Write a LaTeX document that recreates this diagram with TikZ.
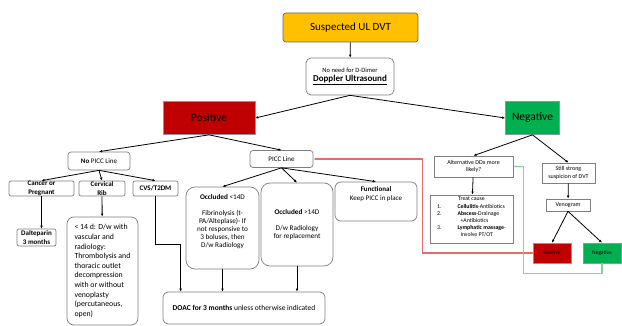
\documentclass[tikz,border=0pt]{standalone}
\usepackage{fontspec}
\setmainfont{Carlito}
\usetikzlibrary{arrows.meta}

\definecolor{dvtorange}{HTML}{FFC000}
\definecolor{posred}{HTML}{C00000}
\definecolor{neggreen}{HTML}{00B050}
\definecolor{boxline}{HTML}{7F7F7F}
\definecolor{headline}{HTML}{8497B0}
\definecolor{backred}{HTML}{E46C6C}
\definecolor{backgreen}{HTML}{7ED69A}
\newcommand{\fsz}[2]{\fontsize{#1}{#2}\selectfont}

\begin{document}
\begin{tikzpicture}
        [x=1pt, y=-1pt,
        rbox/.style={draw=boxline, rounded corners=3pt, fill=white, align=center, inner sep=1pt, line width=0.7pt, font=\fsz{7}{8.5}},
        sbox/.style={draw=boxline, fill=white, align=center, inner sep=1pt, line width=0.7pt, font=\fsz{6}{7.3}},
        head/.style={draw=headline, align=center, inner sep=1pt, line width=0.7pt},
        edge/.style={black, line width=0.8pt, -{Latex[length=3pt,width=2.6pt]}},
        backedge/.style={line width=1.2pt, -{Latex[length=3pt,width=2.6pt]}}]

        \useasboundingbox (0,0) rectangle (622,326);

        % top of the chart
        \node[rbox, fill=dvtorange, draw=black!60, minimum width=135, minimum height=29, font=\fsz{11}{13}] (susp) at (350.5,27.5) {Suspected UL DVT};
        \node[rbox, rounded corners=5pt, minimum width=88, minimum height=37] (doppler) at (350,76.5) {{\fsz{6.5}{8}No need for D-Dimer}\\[1pt]{\fsz{9}{11}\textbf{\underline{Doppler Ultrasound}}}};
        \node[head, fill=posred, minimum width=92, minimum height=33, font=\fsz{11.5}{13}] (pos) at (209,118) {Positive};
        \node[head, fill=neggreen, minimum width=54, minimum height=33, font=\fsz{11.5}{13}] (neg) at (532.5,118) {Negative};

        % positive branch
        \node[rbox, minimum width=62, minimum height=18] (nopicc) at (99,161) {\textbf{No} PICC Line};
        \node[rbox, minimum width=63, minimum height=17] (picc) at (281.5,159) {PICC Line};
        \node[rbox, rounded corners=2pt, inner ysep=0pt, minimum width=65, minimum height=15, font=\fsz{7}{8.5}\bfseries] (cancer) at (41.5,188.5) {Cancer or\\Pregnant};
        \node[rbox, rounded corners=2pt, inner ysep=0pt, minimum width=46, minimum height=15, font=\fsz{7}{8.5}\bfseries] (cervical) at (102,188.5) {Cervical\\Rib};
        \node[rbox, rounded corners=2pt, minimum width=45, minimum height=15, font=\fsz{7}{8.5}\bfseries] (cvs) at (155.5,188.5) {CVS/T2DM};
        \node[rbox, rounded corners=2pt, inner ysep=0pt, minimum width=39, minimum height=17, font=\fsz{7}{8.5}\bfseries] (dalt) at (36.5,237.5) {Dalteparin\\3 months};
        \node[rbox, rounded corners=7pt, align=left, minimum width=71, minimum height=108, font=\fsz{7.8}{9.6}] (cervtext) at (102.5,271) {< 14 d: D/w with\\vascular and\\radiology:\\Thrombolysis and\\thoracic outlet\\decompression\\with or without\\venoplasty\\(percutaneous,\\open)};
        \node[rbox, rounded corners=9pt, minimum width=73, minimum height=82, font=\fsz{7.2}{8}] (occ1) at (222.5,228) {\textbf{Occluded} <14D\\[8pt]Fibrinolysis (t-\\PA/Alteplase)- If\\not responsive to\\3 boluses, then\\D/w Radiology\\[6pt]~};
        \node[rbox, rounded corners=9pt, minimum width=72, minimum height=83, font=\fsz{7.2}{8}] (occ2) at (297,224.5) {\textbf{Occluded} >14D\\[8pt]D/w Radiology\\for replacement};
        \node[rbox, rounded corners=6pt, minimum width=82, minimum height=39, font=\fsz{7}{9}] (func) at (376,201.5) {\textbf{Functional}\\Keep PICC in place\\[6pt]~};
        \node[rbox, rounded corners=5pt, minimum width=162, minimum height=32, font=\fsz{7.5}{9}] (doac) at (244,308) {\textbf{DOAC for 3 months} unless otherwise indicated};

        % negative branch
        \node[sbox, minimum width=79, minimum height=21] (alt) at (473.5,166.5) {Alternative DDx more\\likely?};
        \node[sbox, minimum width=53, minimum height=20] (still) at (568.5,173) {Still strong\\suspicion of DVT};
        \node[sbox, minimum width=83, minimum height=46, font=\fsz{5.8}{7.2}] (treat) at (471.5,219) {\begin{tabular}{@{}l@{\hspace{16pt}}l@{}}
                \multicolumn{2}{c}{Treat cause}\\
                1. & \textbf{Cellulitis}-Antibiotics\\
                2. & \textbf{Abscess}-Drainage\\
                   & \hspace{3pt}+Antibiotics\\
                3. & \textbf{Lymphatic massage}-\\
                   & \hspace{3pt}Involve PT/OT
            \end{tabular}\\[2pt]~};
        \node[sbox, minimum width=44, minimum height=12] (veno) at (568,205) {Venogram};
        \node[head, fill=posred, minimum width=38, minimum height=20, font=\fsz{5.5}{6.5}] (pos2) at (552,253) {Positive};
        \node[head, fill=neggreen, minimum width=38, minimum height=20, font=\fsz{5.5}{6.5}] (neg2) at (602,253) {Negative};

        \draw[edge] (susp) -- (doppler);
        \draw[edge] (doppler.south) -- (pos.east);
        \draw[edge] (doppler.south) -- (neg.west);
        \draw[edge] (pos.south) -- (nopicc.north);
        \draw[edge] (pos.south) -- (picc.north);
        \draw[edge] (nopicc.south) -- (cancer.north);
        \draw[edge] (nopicc.south) -- (cervical.north);
        \draw[edge] (nopicc.south) -- (cvs.north);
        \draw[edge] (cancer.south) -- (cancer.south |- dalt.north);
        \draw[edge] (cervical) -- (cervtext);
        \draw[edge] (cvs.south) -- ++(0,48) -| ([xshift=18pt]doac.north west);
        \draw[edge] (picc.south) -- (occ1.north);
        \draw[edge] (picc.south) -- (occ2.north);
        \draw[edge] (picc.south) -- (func.north);
        \draw[edge] (occ1.south) -- (occ1.south |- doac.north);
        \draw[edge] (occ2.south) -- (occ2.south |- doac.north);
        \draw[edge] (neg.south) -- (alt.north);
        \draw[edge] (neg.south) -- (still.north);
        \draw[edge] (alt) -- (treat);
        \draw[edge] (still) -- (veno);
        \draw[edge] (veno.south) -- (pos2.north);
        \draw[edge] (veno.south) -- (neg2.north);

        % back to the picc line / alternatives
        \draw[backedge, color=backred] (pos2.west) -- ++(-110,0) |- (picc.east);
        \draw[backedge, color=backgreen] (neg2.south) -- ++(0,10) -| ([xshift=10pt]alt.east) -- (alt.east);

    \end{tikzpicture}
\end{document}
